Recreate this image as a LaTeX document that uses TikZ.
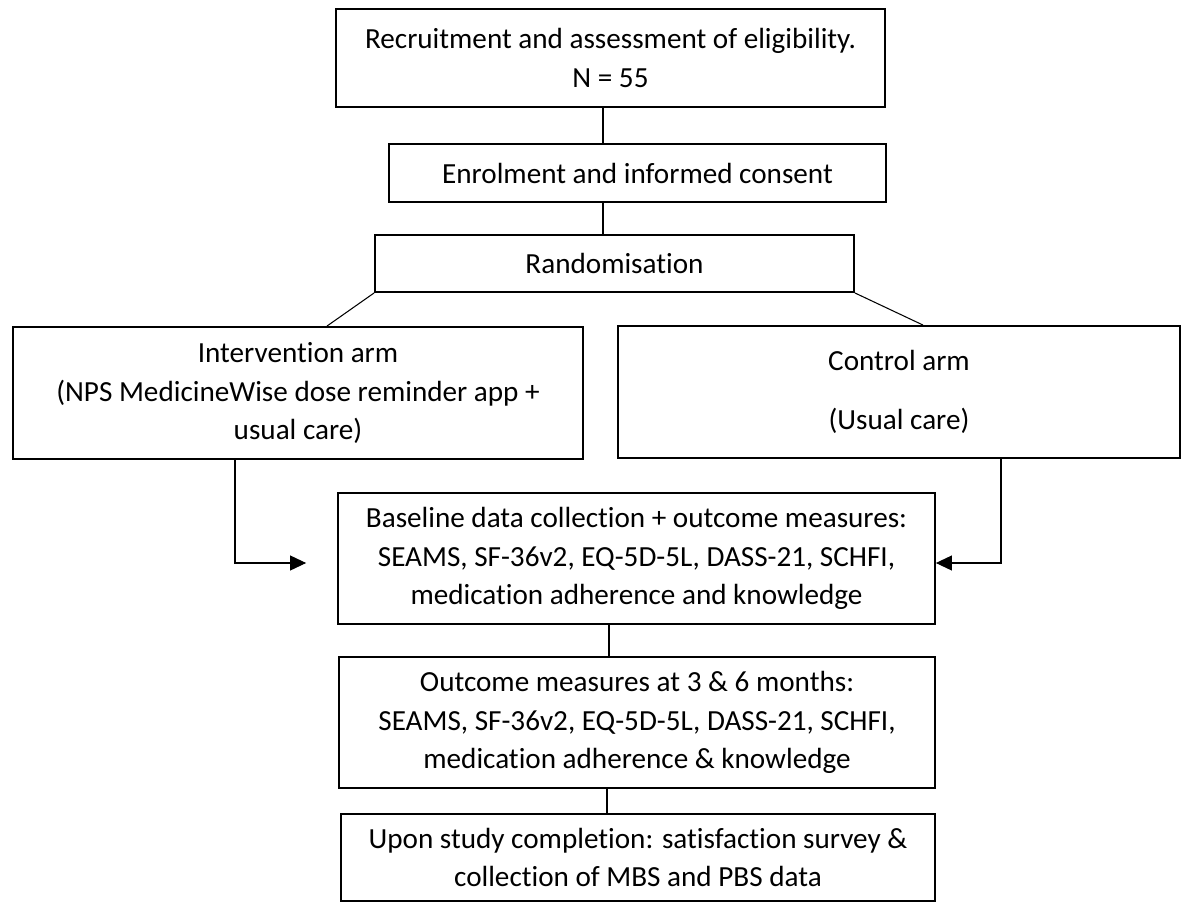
\documentclass[tikz,border=0pt]{standalone}
\usepackage{fontspec}
\setmainfont{Carlito}[RawFeature={-liga;-calt;-dlig;-clig}]
\usetikzlibrary{arrows.meta, positioning}
\tikzset{
  flowbox/.style = {rectangle, draw, line width=1.1pt, align=center,
                    font=\fontsize{16.6}{21.8}\selectfont, inner sep=0pt},
  link/.style = {line width=0.6pt},
  arrow/.style = {line width=0.6pt, -{Triangle[length=0.32cm, width=0.3cm]}},
}

\begin{document}
\begin{tikzpicture}[x=0.02cm, y=-0.02cm]
\useasboundingbox (0,0) rectangle (1184,903);

% Top stages
\node[flowbox, minimum width=10.98cm, minimum height=1.96cm] (recruit) at (610.5,58)
  {Recruitment and assessment of eligibility.\\N = 55};
\node[flowbox, minimum width=9.94cm, minimum height=1.16cm] (enrol) at (637.5,173)
  {Enrolment and informed consent};
\node[flowbox, minimum width=9.58cm, minimum height=1.14cm] (random) at (614.5,263.5)
  {Randomisation};

% Arms
\node[flowbox, minimum width=11.4cm, minimum height=2.64cm] (interv) at (298,393)
  {Intervention arm\\(NPS MedicineWise dose reminder app +\\usual care)};
\node[flowbox, minimum width=11.24cm, minimum height=2.64cm] (control) at (899,392)
  {Control arm\\[0.4cm](Usual care)};

% Measures
\node[flowbox, minimum width=11.94cm, minimum height=2.62cm] (baseline) at (636.5,558.5)
  {Baseline data collection + outcome measures:\\SEAMS, SF-36v2, EQ-5D-5L, DASS-21, SCHFI,\\medication adherence and knowledge};
\node[flowbox, minimum width=11.92cm, minimum height=2.62cm] (outcome) at (637,722.5)
  {Outcome measures at 3 \& 6 months:\\SEAMS, SF-36v2, EQ-5D-5L, DASS-21, SCHFI,\\medication adherence \& knowledge};
\node[flowbox, minimum width=11.88cm, minimum height=1.74cm] (upon) at (638,857.5)
  {Upon study completion: satisfaction survey \&\\collection of MBS and PBS data};

\coordinate (inArr) at ([xshift=-0.62cm, yshift=-0.09cm]baseline.west);

% Connectors
\draw[link] ([xshift=-0.15cm]recruit.south) -- ([xshift=-0.15cm]recruit.south |- enrol.north);
\draw[link] ([xshift=-0.15cm]recruit.south |- enrol.south) -- ([xshift=-0.15cm]recruit.south |- random.north);
\draw[link] (random.south west) -- ([xshift=0.58cm]interv.north);
\draw[link] (random.south east) -- ([xshift=0.48cm]control.north);
\draw[arrow] ([xshift=-1.26cm]interv.south) |- (inArr);
\draw[arrow] ([xshift=2.04cm]control.south) |- ([yshift=-0.09cm]baseline.east);
\draw[link] ([xshift=-0.55cm]baseline.south) -- ([xshift=-0.55cm]baseline.south |- outcome.north);
\draw[link] ([xshift=-0.6cm]outcome.south) -- ([xshift=-0.6cm]outcome.south |- upon.north);
\end{tikzpicture}
\end{document}
